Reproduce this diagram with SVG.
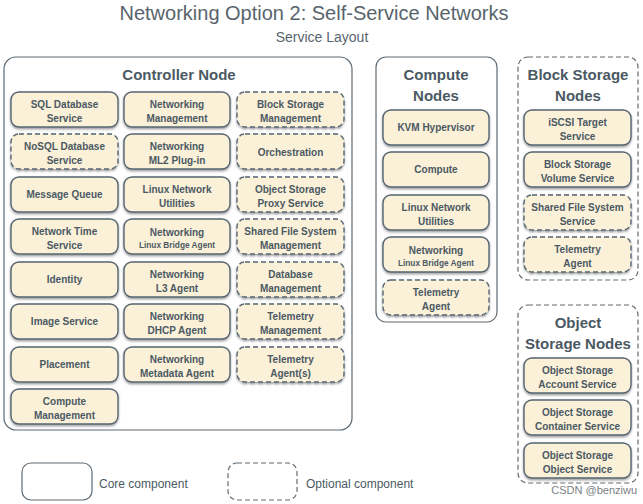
<svg xmlns="http://www.w3.org/2000/svg" width="643" height="504" viewBox="0 0 643 504">
<defs>
<filter id="sh" x="-10%" y="-10%" width="120%" height="140%">
<feDropShadow dx="0" dy="1.5" stdDeviation="1" flood-color="#000" flood-opacity="0.4"/>
</filter>
</defs>
<style>
text{font-family:"Liberation Sans",Arial,sans-serif;fill:#4b5963}
.t{font-size:20px;text-anchor:middle;fill:#58646d}
.st{font-size:14px;text-anchor:middle;fill:#58646d}
.ct{font-size:15px;font-weight:bold;text-anchor:middle}
.b{fill:#fbf1d9;stroke:#566570;stroke-width:1.4;filter:url(#sh)}
.d{stroke-dasharray:5 3}
.c{fill:#fff;stroke:#5e6a73;stroke-width:1.2}
.bt{font-size:10px;font-weight:bold;text-anchor:middle}
.sm{font-size:8.3px}
.lg{font-size:12px}
</style>
<text class="t" x="314" y="20">Networking Option 2: Self-Service Networks</text>
<text class="st" x="322" y="42">Service Layout</text>

<g id="controller">
<rect class="c" x="4" y="57" width="348" height="373" rx="12"/>
<text class="ct" x="179" y="80">Controller Node</text>
</g>
<g id="compute-nodes">
<rect class="c" x="376" y="57" width="121" height="265" rx="10"/>
<text class="ct" x="436" y="80">Compute</text>
<text class="ct" x="436" y="101">Nodes</text>
</g>
<g id="block-storage-nodes">
<rect class="c d" x="518" y="57" width="120" height="223" rx="10"/>
<text class="ct" x="578" y="80">Block Storage</text>
<text class="ct" x="578" y="101">Nodes</text>
</g>
<g id="object-storage-nodes">
<rect class="c d" x="518" y="305" width="120" height="178" rx="10"/>
<text class="ct" x="578" y="328">Object</text>
<text class="ct" x="578" y="349">Storage Nodes</text>
</g>

<!-- Controller column 1 -->
<g id="sql-db"><rect class="b" x="11" y="92" width="107" height="35" rx="8"/><text class="bt" x="64.5" y="107.5">SQL Database</text><text class="bt" x="64.5" y="121.5">Service</text></g>
<g id="nosql-db"><rect class="b d" x="11" y="134" width="107" height="35" rx="8"/><text class="bt" x="64.5" y="149.5">NoSQL Database</text><text class="bt" x="64.5" y="163.5">Service</text></g>
<g id="mq"><rect class="b" x="11" y="177" width="107" height="35" rx="8"/><text class="bt" x="64.5" y="198">Message Queue</text></g>
<g id="ntp"><rect class="b" x="11" y="219" width="107" height="35" rx="8"/><text class="bt" x="64.5" y="234.5">Network Time</text><text class="bt" x="64.5" y="248.5">Service</text></g>
<g id="identity"><rect class="b" x="11" y="262" width="107" height="35" rx="8"/><text class="bt" x="64.5" y="283">Identity</text></g>
<g id="image"><rect class="b" x="11" y="304" width="107" height="35" rx="8"/><text class="bt" x="64.5" y="325">Image Service</text></g>
<g id="placement"><rect class="b" x="11" y="347" width="107" height="35" rx="8"/><text class="bt" x="64.5" y="368">Placement</text></g>
<g id="compute-mgmt"><rect class="b" x="11" y="389" width="107" height="35" rx="8"/><text class="bt" x="64.5" y="404.5">Compute</text><text class="bt" x="64.5" y="418.5">Management</text></g>

<!-- Controller column 2 -->
<g id="net-mgmt"><rect class="b" x="124" y="92" width="106" height="35" rx="8"/><text class="bt" x="177" y="107.5">Networking</text><text class="bt" x="177" y="121.5">Management</text></g>
<g id="net-ml2"><rect class="b" x="124" y="134" width="106" height="35" rx="8"/><text class="bt" x="177" y="149.5">Networking</text><text class="bt" x="177" y="163.5">ML2 Plug-in</text></g>
<g id="linux-net"><rect class="b" x="124" y="177" width="106" height="35" rx="8"/><text class="bt" x="177" y="192.5">Linux Network</text><text class="bt" x="177" y="206.5">Utilities</text></g>
<g id="net-lba"><rect class="b" x="124" y="219" width="106" height="35" rx="8"/><text class="bt" x="177" y="236">Networking</text><text class="bt sm" x="177" y="248">Linux Bridge Agent</text></g>
<g id="net-l3"><rect class="b" x="124" y="262" width="106" height="35" rx="8"/><text class="bt" x="177" y="277.5">Networking</text><text class="bt" x="177" y="291.5">L3 Agent</text></g>
<g id="net-dhcp"><rect class="b" x="124" y="304" width="106" height="35" rx="8"/><text class="bt" x="177" y="319.5">Networking</text><text class="bt" x="177" y="333.5">DHCP Agent</text></g>
<g id="net-meta"><rect class="b" x="124" y="347" width="106" height="35" rx="8"/><text class="bt" x="177" y="362.5">Networking</text><text class="bt" x="177" y="376.5">Metadata Agent</text></g>

<!-- Controller column 3 -->
<g id="block-mgmt"><rect class="b d" x="237" y="92" width="107" height="35" rx="8"/><text class="bt" x="290.5" y="107.5">Block Storage</text><text class="bt" x="290.5" y="121.5">Management</text></g>
<g id="orchestration"><rect class="b d" x="237" y="134" width="107" height="35" rx="8"/><text class="bt" x="290.5" y="156">Orchestration</text></g>
<g id="obj-proxy"><rect class="b d" x="237" y="177" width="107" height="35" rx="8"/><text class="bt" x="290.5" y="192.5">Object Storage</text><text class="bt" x="290.5" y="206.5">Proxy Service</text></g>
<g id="sfs-mgmt"><rect class="b d" x="237" y="219" width="107" height="35" rx="8"/><text class="bt" x="290.5" y="234.5">Shared File System</text><text class="bt" x="290.5" y="248.5">Management</text></g>
<g id="db-mgmt"><rect class="b d" x="237" y="262" width="107" height="35" rx="8"/><text class="bt" x="290.5" y="277.5">Database</text><text class="bt" x="290.5" y="291.5">Management</text></g>
<g id="tel-mgmt"><rect class="b d" x="237" y="304" width="107" height="35" rx="8"/><text class="bt" x="290.5" y="319.5">Telemetry</text><text class="bt" x="290.5" y="333.5">Management</text></g>
<g id="tel-agents"><rect class="b d" x="237" y="347" width="107" height="35" rx="8"/><text class="bt" x="290.5" y="362.5">Telemetry</text><text class="bt" x="290.5" y="376.5">Agent(s)</text></g>

<!-- Compute nodes -->
<g id="kvm"><rect class="b" x="383" y="110" width="106" height="35" rx="8"/><text class="bt" x="436" y="131">KVM Hypervisor</text></g>
<g id="compute"><rect class="b" x="383" y="152" width="106" height="35" rx="8"/><text class="bt" x="436" y="173">Compute</text></g>
<g id="cn-linux-net"><rect class="b" x="383" y="195" width="106" height="35" rx="8"/><text class="bt" x="436" y="210.5">Linux Network</text><text class="bt" x="436" y="224.5">Utilities</text></g>
<g id="cn-net-lba"><rect class="b" x="383" y="237" width="106" height="35" rx="8"/><text class="bt" x="436" y="254">Networking</text><text class="bt sm" x="436" y="266">Linux Bridge Agent</text></g>
<g id="cn-tel"><rect class="b d" x="383" y="280" width="106" height="35" rx="8"/><text class="bt" x="436" y="295.5">Telemetry</text><text class="bt" x="436" y="309.5">Agent</text></g>

<!-- Block storage nodes -->
<g id="iscsi"><rect class="b" x="524" y="110" width="107" height="35" rx="8"/><text class="bt" x="577.5" y="125.5">iSCSI Target</text><text class="bt" x="577.5" y="139.5">Service</text></g>
<g id="bs-volume"><rect class="b" x="524" y="152" width="107" height="35" rx="8"/><text class="bt" x="577.5" y="167.5">Block Storage</text><text class="bt" x="577.5" y="181.5">Volume Service</text></g>
<g id="sfs-service"><rect class="b d" x="524" y="195" width="107" height="35" rx="8"/><text class="bt" x="577.5" y="210.5">Shared File System</text><text class="bt" x="577.5" y="224.5">Service</text></g>
<g id="bs-tel"><rect class="b d" x="524" y="237" width="107" height="35" rx="8"/><text class="bt" x="577.5" y="252.5">Telemetry</text><text class="bt" x="577.5" y="266.5">Agent</text></g>

<!-- Object storage nodes -->
<g id="os-account"><rect class="b" x="524" y="358" width="107" height="35" rx="8"/><text class="bt" x="577.5" y="373.5">Object Storage</text><text class="bt" x="577.5" y="387.5">Account Service</text></g>
<g id="os-container"><rect class="b" x="524" y="400" width="107" height="35" rx="8"/><text class="bt" x="577.5" y="415.5">Object Storage</text><text class="bt" x="577.5" y="429.5">Container Service</text></g>
<g id="os-object"><rect class="b" x="524" y="443" width="107" height="35" rx="8"/><text class="bt" x="577.5" y="458.5">Object Storage</text><text class="bt" x="577.5" y="472.5">Object Service</text></g>

<g id="connectors"></g>

<g id="legend">
<rect class="c" x="22" y="463" width="70" height="37" rx="9"/>
<text class="lg" x="99" y="488">Core component</text>
<rect class="c d" x="228" y="463" width="69" height="37" rx="9"/>
<text class="lg" x="306" y="488">Optional component</text>
</g>
<text x="637" y="494" text-anchor="end" style="font-size:11px;fill:#7a7f84">CSDN @benziwu</text>
</svg>
